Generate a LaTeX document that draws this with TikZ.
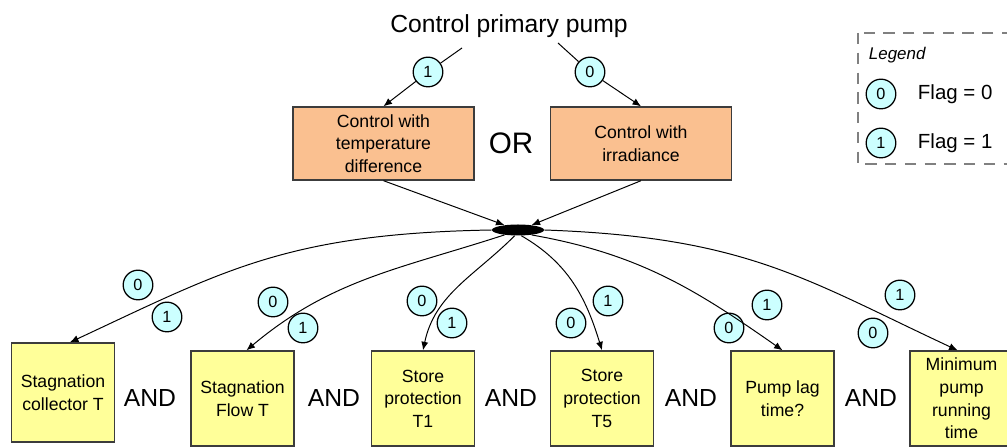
\documentclass[tikz,border=0pt]{standalone}
\usepackage{fontspec}
\setmainfont{Liberation Sans}
\usetikzlibrary{shapes.geometric,arrows.meta}

% 颜色
\definecolor{ctrlorange}{RGB}{250,192,144}
\definecolor{condyellow}{RGB}{255,255,153}
\definecolor{flagcyan}{RGB}{204,255,255}
\definecolor{edgegray}{RGB}{60,60,60}

% 一个像素的长度
\newcommand{\pxlen}{0.7087pt}

\tikzset{
    ctrlbox/.style={draw=edgegray, line width=1pt, fill=ctrlorange,
        minimum width=181*\pxlen, minimum height=73*\pxlen, inner sep=0pt,
        align=center, font=\fontsize{12.5}{16}\selectfont},
    condbox/.style={draw=edgegray, line width=1pt, fill=condyellow,
        minimum width=103*\pxlen, minimum height=95*\pxlen, inner sep=0pt,
        align=center, font=\fontsize{12.5}{16}\selectfont},
    flag/.style={circle, draw=black, line width=0.9pt, fill=flagcyan,
        minimum size=21pt, inner sep=0pt, font=\fontsize{11.5}{12}\selectfont},
    logic/.style={font=\fontsize{17.5}{18}\selectfont},
    arr/.style={-{Latex[length=6pt,width=5pt]}, line width=0.7pt},
}

\begin{document}
\begin{tikzpicture}[x=\pxlen, y=\pxlen]
    \useasboundingbox (0,0) rectangle (1007,447);

    % 顶部
    \node[font=\fontsize{17.5}{18}\selectfont] (title) at (509,421) {Control primary pump};
    \coordinate (t1) at (462,399);
    \coordinate (t0) at (558,404);
    \node[flag] (fa1) at (428,375) {1};
    \node[flag] (fa0) at (590,375) {0};
    \node[ctrlbox] (ctd) at (383.5,303.5) {Control with\\temperature\\difference};
    \node[ctrlbox] (irr) at (641,303.5) {Control with\\irradiance};
    \node[font=\fontsize{21}{22}\selectfont] (or) at (511,304) {OR};

    \draw[line width=0.7pt] (t1) -- (fa1);
    \draw[arr] (fa1) -- (ctd.north);
    \draw[line width=0.7pt] (t0) -- (fa0);
    \draw[arr] (fa0) -- (irr.north);

    % 汇合点
    \node[ellipse, fill=black, minimum width=52*\pxlen, minimum height=11*\pxlen, inner sep=0pt] (hub) at (518,217) {};
    \draw[arr] (ctd.south) -- (hub.160);
    \draw[arr] (irr.south) -- (hub.20);

    % 图例
    \draw[draw=gray, line width=1pt, dash pattern=on 8pt off 6pt] (858,414) rectangle (1012,283);
    \node[anchor=west, font=\fontsize{12}{12}\selectfont\itshape] (lgd) at (864,392) {Legend};
    \node[flag] (lf0) at (881,353) {0};
    \node[flag] (lf1) at (881,304) {1};
    \node[anchor=west, font=\fontsize{14.5}{15}\selectfont] (lt0) at (913,353) {Flag = 0};
    \node[anchor=west, font=\fontsize{14.5}{15}\selectfont] (lt1) at (913,304) {Flag = 1};

    % 底部条件
    \node[condbox, minimum height=99*\pxlen] (sct) at (63,54.5) {Stagnation\\collector T};
    \node[condbox] (sft) at (242.5,48.5) {Stagnation\\Flow T};
    \node[condbox] (sp1) at (423,48.5) {Store\\protection\\T1};
    \node[condbox] (sp5) at (602,48.5) {Store\\protection\\T5};
    \node[condbox] (plt) at (782.5,48.5) {Pump lag\\time?};
    \node[condbox] (mpr) at (961.5,48.5) {Minimum\\pump\\running\\time};

    \node[logic] (and1) at (150,49) {AND};
    \node[logic] (and2) at (334,49) {AND};
    \node[logic] (and3) at (511,49) {AND};
    \node[logic] (and4) at (691,49) {AND};
    \node[logic] (and5) at (871,49) {AND};

    % 标志
    \node[flag] (b10) at (138,162) {0};
    \node[flag] (b11) at (167,130) {1};
    \node[flag] (b20) at (273,145) {0};
    \node[flag] (b21) at (303,119) {1};
    \node[flag] (b30) at (422,146) {0};
    \node[flag] (b31) at (452,124) {1};
    \node[flag] (b40) at (571,124) {0};
    \node[flag] (b41) at (608,146) {1};
    \node[flag] (b50) at (729,119) {0};
    \node[flag] (b51) at (767,142) {1};
    \node[flag] (b60) at (873,114) {0};
    \node[flag] (b61) at (900,152) {1};

    % 曲线
    \draw[arr] (hub.west) to[out=181, in=25, out looseness=1.2] ([xshift=7*\pxlen]sct.north);
    \draw[arr] (hub.200) to[out=198, in=40] ([xshift=4*\pxlen]sft.north);
    \draw[arr] (hub.240) to[out=225, in=78] (sp1.north);
    \draw[arr] (hub.300) to[out=-30, in=107] (sp5.north);
    \draw[arr] (hub.340) to[out=-10, in=145] (plt.north);
    \draw[arr] (hub.east) to[out=-2, in=155, out looseness=1.2] ([xshift=-4*\pxlen]mpr.north);
\end{tikzpicture}
\end{document}
